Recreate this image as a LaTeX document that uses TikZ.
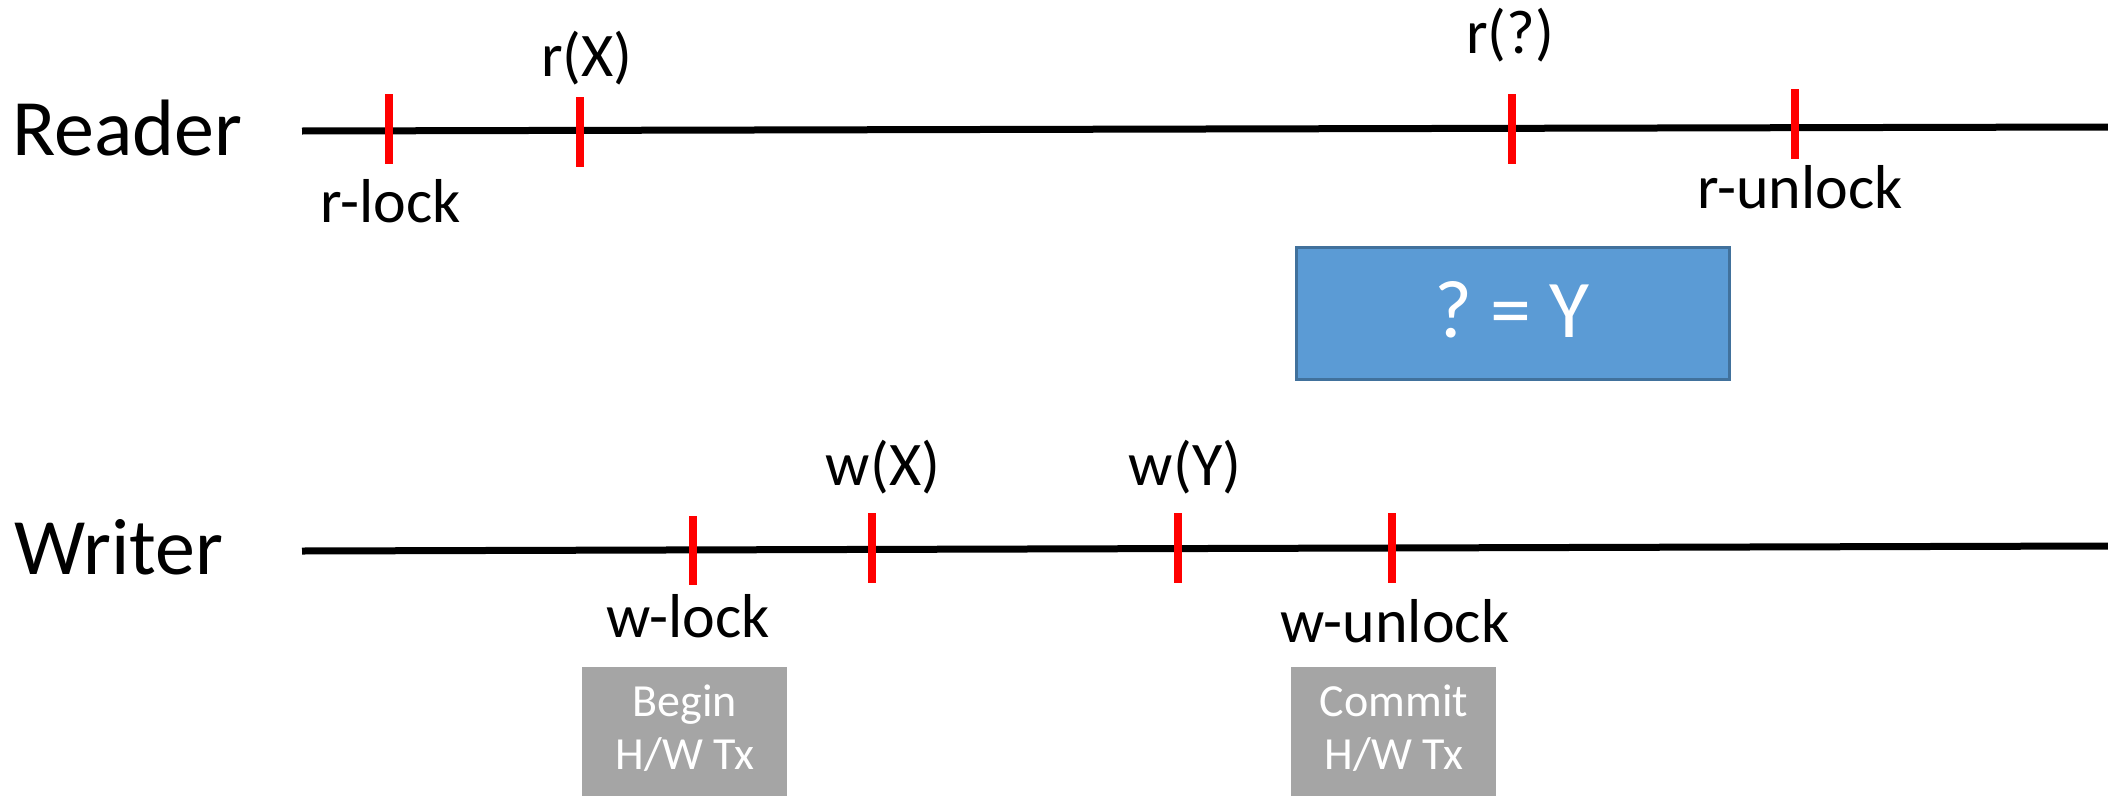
\documentclass[tikz,border=0pt]{standalone}
\usepackage{fontspec}
\setmainfont{Carlito}
\frenchspacing
\definecolor{tickred}{HTML}{FF0000}
\definecolor{boxblue}{HTML}{5B9BD5}
\definecolor{boxblueedge}{HTML}{41719C}
\definecolor{boxgrey}{HTML}{A5A5A5}
\begin{document}
\begin{tikzpicture}[x=1pt,y=-1pt,
  lbl/.style={inner sep=0pt, anchor=base, font=\fontsize{62}{74}\selectfont},
  actor/.style={inner sep=0pt, anchor=base west, font=\fontsize{80}{96}\selectfont},
  timeline/.style={line width=7pt, black},
  tickmark/.style={line width=8pt, tickred},
  valbox/.style={draw=boxblueedge, fill=boxblue, line width=3pt, inner sep=0pt, anchor=north west, minimum width=433pt, minimum height=132pt},
  txbox/.style={fill=boxgrey, inner sep=0pt, anchor=north west, minimum width=205pt, minimum height=140pt},
  txtext/.style={inner sep=0pt, anchor=base, text=white, font=\fontsize{46}{56}\selectfont}
]
\useasboundingbox (0,0) rectangle (2108,795);

% actors
\node[actor] (reader) at (12,155) {Reader};
\node[actor] (writer) at (14,574) {Writer};

% timelines
\coordinate (rs) at (302,131);
\coordinate (re) at (2108,127);
\coordinate (ws) at (302,551);
\coordinate (we) at (2108,546);
\draw[timeline] (rs) -- (re);
\draw[timeline] (ws) -- (we);

% reader ticks
\coordinate (t1a) at (389,94);  \coordinate (t1b) at (389,164);
\coordinate (t2a) at (580,97);  \coordinate (t2b) at (580,167);
\coordinate (t3a) at (1512,94); \coordinate (t3b) at (1512,164);
\coordinate (t4a) at (1795,89); \coordinate (t4b) at (1795,159);
\draw[tickmark] (t1a) -- (t1b);
\draw[tickmark] (t2a) -- (t2b);
\draw[tickmark] (t3a) -- (t3b);
\draw[tickmark] (t4a) -- (t4b);

% writer ticks
\coordinate (u1a) at (693,516);  \coordinate (u1b) at (693,585);
\coordinate (u2a) at (872,513);  \coordinate (u2b) at (872,583);
\coordinate (u3a) at (1178,513); \coordinate (u3b) at (1178,583);
\coordinate (u4a) at (1392,513); \coordinate (u4b) at (1392,583);
\draw[tickmark] (u1a) -- (u1b);
\draw[tickmark] (u2a) -- (u2b);
\draw[tickmark] (u3a) -- (u3b);
\draw[tickmark] (u4a) -- (u4b);

% reader labels
\node[lbl] (rlock) at (391,222) {r-lock};
\node[lbl] (rx) at (587,76) {r(X)};
\node[lbl] (rq) at (1510,53) {r(?)};
\node[lbl] (runlock) at (1800,208) {r-unlock};

% writer labels
\node[lbl] (wx) at (883,485) {w(X)};
\node[lbl] (wy) at (1185,485) {w(Y)};
\node[lbl] (wlock) at (688,637) {w-lock};
\node[lbl] (wunlock) at (1395,642) {w-unlock};

% value box
\node[valbox] (val) at (1295,246) {};
\node[inner sep=0pt, anchor=base, text=white, font=\fontsize{82}{98}\selectfont] (valtxt) at (1512,337) {? = Y};

% transaction boxes
\node[txbox] (begin) at (582,667) {};
\node[txtext] (begin1) at (685,716) {Begin};
\node[txtext] (begin2) at (685,769) {H/W Tx};
\node[txbox] (commit) at (1291,667) {};
\node[txtext] (commit1) at (1394,716) {Commit};
\node[txtext] (commit2) at (1394,769) {H/W Tx};
\end{tikzpicture}
\end{document}
